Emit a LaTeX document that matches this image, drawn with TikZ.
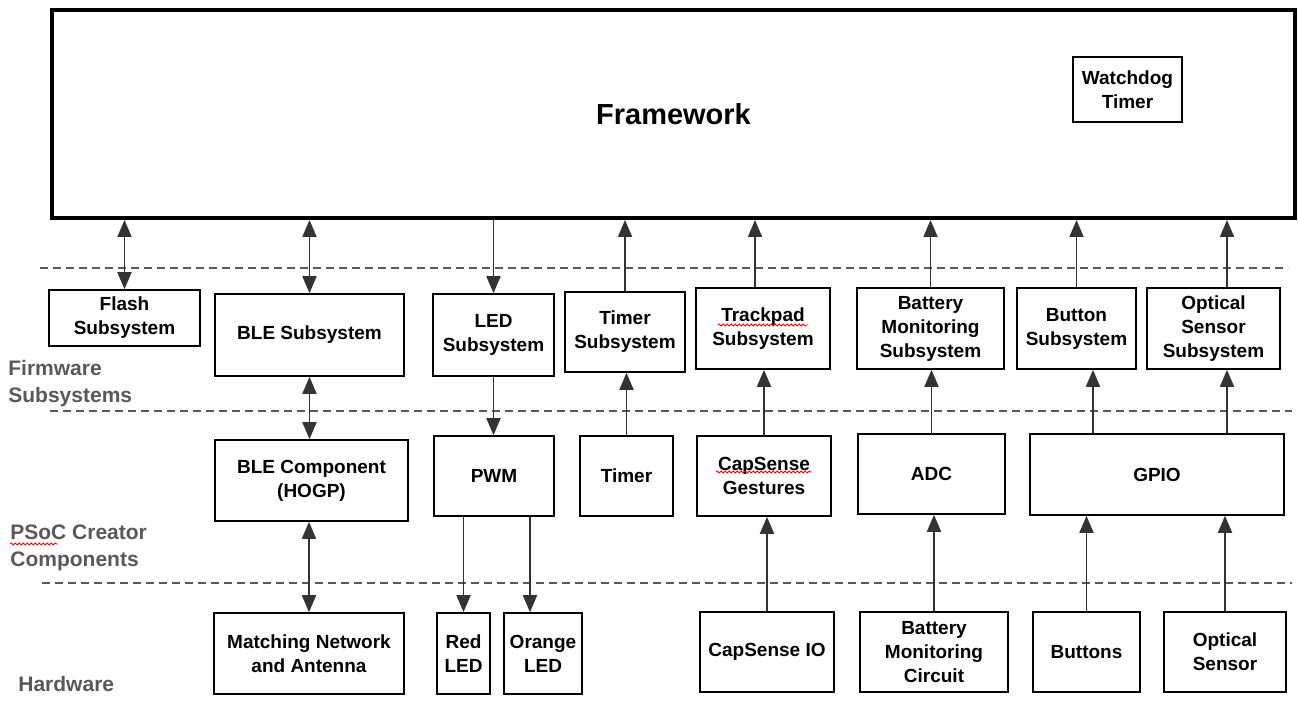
\documentclass[tikz,border=0pt]{standalone}
\usepackage{fontspec}
\setmainfont{Liberation Sans}
\usetikzlibrary{arrows.meta,decorations.pathmorphing}
\definecolor{lyr}{HTML}{595959}
\definecolor{ln}{HTML}{333333}
\newcommand\mybox[6]{\node[box,minimum width={(#4-#2)*0.5pt},minimum height={(#5-#3)*0.5pt}] (#1) at ({(#2+#4)/2},{(#3+#5)/2}) {#6};}
\begin{document}
\begin{tikzpicture}[x=0.5pt,y=-0.5pt,
 box/.style={draw=black,line width=0.8pt,fill=white,align=center,font=\fontsize{9.5}{12}\selectfont\bfseries,inner sep=0pt},
 con/.style={draw=ln,line width=0.9pt,-{Triangle[width=7pt,length=8.5pt]}},
 dcon/.style={draw=ln,line width=0.9pt,{Triangle[width=7pt,length=8.5pt]}-{Triangle[width=7pt,length=8.5pt]}},
 sep/.style={draw=lyr,line width=0.6pt,dash pattern=on 4pt off 2.5pt},
 layer/.style={text=lyr,align=left,anchor=north west,font=\fontsize{10.5}{13.5}\selectfont\bfseries,inner sep=0pt},
 squig/.style={draw=red,line width=0.4pt,decorate,decoration={snake,amplitude=0.5pt,segment length=2pt}}]
\useasboundingbox (0,0) rectangle (1298,710);
% Framework
\node[draw=black,line width=2pt,minimum width={1243*0.5pt},minimum height={208*0.5pt},inner sep=0pt,font=\fontsize{14.5}{17}\selectfont\bfseries] (fw) at (673.5,114) {Framework};
\mybox{wdt}{1073}{57}{1182}{122}{Watchdog\\Timer}
% separators
\coordinate (s1a) at (40,268); \coordinate (s1b) at (1288,268);
\coordinate (s2a) at (50,411); \coordinate (s2b) at (1292,411);
\coordinate (s3a) at (42,583); \coordinate (s3b) at (1292,583);
\draw[sep] (s1a) -- (s1b);
\draw[sep] (s2a) -- (s2b);
\draw[sep] (s3a) -- (s3b);
% layer labels
\node[layer] (lfw) at (8,360) {Firmware\\Subsystems};
\node[layer] (lpc) at (10,524) {PSoC Creator\\Components};
\node[layer] (lhw) at (18,676) {Hardware};
% row 1
\mybox{flash}{49}{290}{200}{346}{Flash\\Subsystem}
\mybox{bles}{215}{294}{404}{376}{BLE Subsystem}
\mybox{leds}{433}{294}{554}{376}{LED\\Subsystem}
\mybox{tims}{565}{292}{685}{372}{Timer\\Subsystem}
\mybox{trks}{696}{288}{830}{369}{Trackpad\\Subsystem}
\mybox{bats}{857}{288}{1004}{369}{Battery\\Monitoring\\Subsystem}
\mybox{btns}{1017}{288}{1136}{369}{Button\\Subsystem}
\mybox{opts}{1147}{288}{1280}{369}{Optical\\Sensor\\Subsystem}
% row 2
\mybox{blec}{215}{440}{408}{521}{BLE Component\\(HOGP)}
\mybox{pwm}{434}{436}{554}{516}{PWM}
\mybox{tim}{580}{436}{673}{516}{Timer}
\mybox{capg}{697}{436}{831}{516}{CapSense\\Gestures}
\mybox{adc}{858}{434}{1005}{514}{ADC}
\mybox{gpio}{1030}{434}{1284}{515}{GPIO}
% row 3
\mybox{match}{214}{613}{404}{694}{Matching Network\\and Antenna}
\mybox{red}{437}{613}{490}{694}{Red\\LED}
\mybox{orange}{504}{613}{582}{694}{Orange\\LED}
\mybox{capio}{700}{612}{834}{692}{CapSense IO}
\mybox{batc}{860}{612}{1008}{692}{Battery\\Monitoring\\Circuit}
\mybox{butt}{1033}{612}{1140}{692}{Buttons}
\mybox{opt}{1164}{612}{1286}{692}{Optical\\Sensor}
% helper x positions
\coordinate (xtrk) at (755,0);
\coordinate (xopt) at (1227,0);
\coordinate (xbtn) at (1093,0);
\coordinate (xorg) at (530,0);
% framework connectors
\draw[dcon] (flash.north) -- (flash.north |- fw.south);
\draw[dcon] (bles.north) -- (bles.north |- fw.south);
\draw[con] (leds.north |- fw.south) -- (leds.north);
\draw[con] (tims.north) -- (tims.north |- fw.south);
\draw[con] (xtrk |- trks.north) -- (xtrk |- fw.south);
\draw[con] (bats.north) -- (bats.north |- fw.south);
\draw[con] (btns.north) -- (btns.north |- fw.south);
\draw[con] (xopt |- opts.north) -- (xopt |- fw.south);
% row 2 -> row 1
\draw[dcon] (blec.north -| bles.south) -- (bles.south);
\draw[con] (leds.south) -- (leds.south |- pwm.north);
\draw[con] (tim.north) -- (tim.north |- tims.south);
\draw[con] (capg.north) -- (capg.north |- trks.south);
\draw[con] (adc.north) -- (adc.north |- bats.south);
\draw[con] (xbtn |- gpio.north) -- (xbtn |- btns.south);
\draw[con] (xopt |- gpio.north) -- (xopt |- opts.south);
% row 3 -> row 2
\draw[dcon] (match.north) -- (match.north |- blec.south);
\draw[con] (red.north |- pwm.south) -- (red.north);
\draw[con] (xorg |- pwm.south) -- (xorg |- orange.north);
\draw[con] (capio.north) -- (capio.north |- capg.south);
\draw[con] (batc.north) -- (batc.north |- adc.south);
\draw[con] (butt.north) -- (butt.north |- gpio.south);
\draw[con] (opt.north) -- (opt.north |- gpio.south);
% spell-check marks
\coordinate (q1a) at (718,325); \coordinate (q1b) at (808,325);
\coordinate (q2a) at (716,472); \coordinate (q2b) at (812,472);
\coordinate (q3a) at (10,544); \coordinate (q3b) at (58,544);
\draw[squig] (q1a) -- (q1b);
\draw[squig] (q2a) -- (q2b);
\draw[squig] (q3a) -- (q3b);
\end{tikzpicture}
\end{document}
